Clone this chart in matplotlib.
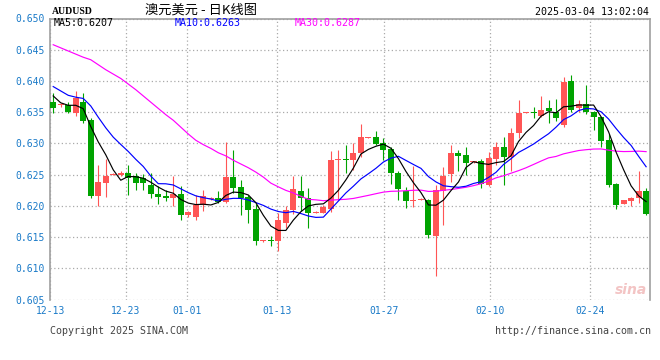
import numpy as np
import matplotlib
matplotlib.use('Agg')
import matplotlib.pyplot as plt

# daily OHLC AUDUSD, 12-13 .. 03-04
opens = [0.6366, 0.6361, 0.6361, 0.6349, 0.6366, 0.6337, 0.6216, 0.6237, 0.6250, 0.6250,
         0.6253, 0.6247, 0.6245, 0.6234, 0.6219, 0.6216, 0.6213, 0.6219, 0.6186, 0.6182,
         0.6202, 0.6211, 0.6213, 0.6206, 0.6246, 0.6230, 0.6214, 0.6195, 0.6143, 0.6144,
         0.6143, 0.6173, 0.6193, 0.6223, 0.6212, 0.6189, 0.6189, 0.6195, 0.6273, 0.6274,
         0.6273, 0.6284, 0.6309, 0.6310, 0.6300, 0.6291, 0.6252, 0.6223, 0.6208, 0.6210,
         0.6210, 0.6152, 0.6224, 0.6251, 0.6284, 0.6281, 0.6270, 0.6271, 0.6234, 0.6275,
         0.6294, 0.6278, 0.6317, 0.6349, 0.6350, 0.6344, 0.6357, 0.6351, 0.6329, 0.6400,
         0.6356, 0.6363, 0.6350, 0.6343, 0.6305, 0.6235, 0.6203, 0.6207, 0.6213, 0.6224]
highs = [0.6381, 0.6364, 0.6366, 0.6384, 0.6380, 0.6341, 0.6265, 0.6275, 0.6252, 0.6256,
         0.6265, 0.6252, 0.6251, 0.6253, 0.6231, 0.6225, 0.6248, 0.6232, 0.6192, 0.6217,
         0.6225, 0.6214, 0.6223, 0.6303, 0.6289, 0.6241, 0.6217, 0.6203, 0.6145, 0.6152,
         0.6188, 0.6200, 0.6248, 0.6248, 0.6229, 0.6191, 0.6201, 0.6288, 0.6289, 0.6298,
         0.6301, 0.6331, 0.6311, 0.6320, 0.6308, 0.6295, 0.6256, 0.6230, 0.6264, 0.6212,
         0.6211, 0.6233, 0.6262, 0.6298, 0.6290, 0.6294, 0.6272, 0.6275, 0.6287, 0.6303,
         0.6310, 0.6325, 0.6370, 0.6351, 0.6359, 0.6376, 0.6370, 0.6371, 0.6406, 0.6409,
         0.6370, 0.6394, 0.6352, 0.6343, 0.6315, 0.6237, 0.6209, 0.6214, 0.6256, 0.6228]
lows = [0.6349, 0.6359, 0.6349, 0.6344, 0.6332, 0.6213, 0.6199, 0.6214, 0.6249, 0.6247,
        0.6218, 0.6225, 0.6225, 0.6213, 0.6203, 0.6208, 0.6200, 0.6177, 0.6182, 0.6178,
        0.6192, 0.6210, 0.6204, 0.6204, 0.6220, 0.6185, 0.6172, 0.6138, 0.6142, 0.6136,
        0.6128, 0.6164, 0.6187, 0.6191, 0.6164, 0.6188, 0.6189, 0.6190, 0.6210, 0.6252,
        0.6257, 0.6278, 0.6308, 0.6298, 0.6273, 0.6235, 0.6210, 0.6197, 0.6198, 0.6209,
        0.6149, 0.6087, 0.6169, 0.6238, 0.6255, 0.6250, 0.6269, 0.6229, 0.6231, 0.6265,
        0.6234, 0.6255, 0.6309, 0.6348, 0.6341, 0.6342, 0.6333, 0.6336, 0.6327, 0.6351,
        0.6351, 0.6347, 0.6321, 0.6295, 0.6230, 0.6195, 0.6203, 0.6199, 0.6204, 0.6185]
closes = [0.6357, 0.6362, 0.6351, 0.6372, 0.6336, 0.6215, 0.6238, 0.6248, 0.6251, 0.6253,
          0.6245, 0.6236, 0.6236, 0.6219, 0.6214, 0.6213, 0.6219, 0.6186, 0.6190, 0.6202,
          0.6216, 0.6213, 0.6206, 0.6246, 0.6229, 0.6212, 0.6194, 0.6144, 0.6145, 0.6143,
          0.6177, 0.6194, 0.6227, 0.6212, 0.6189, 0.6190, 0.6198, 0.6273, 0.6274, 0.6273,
          0.6285, 0.6310, 0.6310, 0.6299, 0.6290, 0.6252, 0.6227, 0.6207, 0.6209, 0.6211,
          0.6153, 0.6225, 0.6248, 0.6285, 0.6280, 0.6269, 0.6271, 0.6235, 0.6277, 0.6294,
          0.6278, 0.6317, 0.6349, 0.6350, 0.6349, 0.6353, 0.6352, 0.6341, 0.6398, 0.6354,
          0.6363, 0.6350, 0.6342, 0.6304, 0.6233, 0.6201, 0.6209, 0.6213, 0.6224, 0.6187]

# moving average values before enough closes exist
ma5_head = [0.6376, 0.6365, 0.6361, 0.6361]
ma10_head = [0.6391, 0.6384, 0.6377, 0.6374, 0.6372, 0.6360, 0.6342, 0.6325, 0.6310]
ma30_head = [0.6458, 0.6453, 0.6448, 0.6443, 0.6438, 0.6434, 0.6426, 0.6418, 0.6411, 0.6404,
             0.6395, 0.6386, 0.6376, 0.6366, 0.6356, 0.6346, 0.6337, 0.6326, 0.6315, 0.6305,
             0.6298, 0.6292, 0.6285, 0.6280, 0.6273, 0.6267, 0.6261, 0.6254, 0.6246]

date_labels = ['12-13', '12-23', '01-01', '01-13', '01-27', '02-10', '02-24']
date_pos = [-0.36, 9.67, 17.85, 29.84, 44.14, 58.26, 71.49]
y_ticks = [0.605, 0.610, 0.615, 0.620, 0.625, 0.630, 0.635, 0.640, 0.645, 0.650]


def moving_avg(vals, n, head):
    out = list(head)
    for i in range(len(head), len(vals)):
        out.append(np.mean(vals[i - n + 1:i + 1]))
    return np.array(out)


o = np.array(opens)
h = np.array(highs)
l = np.array(lows)
c = np.array(closes)
x = np.arange(len(c))

ma5 = moving_avg(c, 5, ma5_head)
ma10 = moving_avg(c, 10, ma10_head)
ma30 = moving_avg(c, 30, ma30_head)

red = '#FF5555'
green = '#00A300'
cols = [red if c[i] >= o[i] else green for i in range(len(c))]

fig = plt.figure(figsize=(6.6, 3.6), dpi=100)
ax = fig.add_axes([50.5 / 660, (360 - 299.5) / 360, 599 / 660, 281 / 360])

ax.vlines(x, l, h, colors=cols, linewidth=0.8, zorder=2)
body_bot = np.minimum(o, c)
body_h = np.maximum(np.abs(c - o), 0.00016)
ax.bar(x, body_h, bottom=body_bot, width=0.8, color=cols, linewidth=0, zorder=3)

ax.plot(x, ma30, color='#FF00FF', lw=0.85, zorder=4)
ax.plot(x, ma10, color='#0000FF', lw=0.85, zorder=4)
ax.plot(x, ma5, color='black', lw=0.85, zorder=5)

ax.set_xlim(-0.36, 79.45)
ax.set_ylim(0.605, 0.650)
ax.set_yticks(y_ticks)
ax.set_yticklabels(['%.3f' % v for v in y_ticks])
ax.set_xticks(date_pos)
ax.set_xticklabels(date_labels)
ax.tick_params(length=0, labelsize=7, labelcolor='#1A7AC8', pad=4)
for lab in ax.get_xticklabels() + ax.get_yticklabels():
    lab.set_family('DejaVu Sans Mono')
ax.tick_params(axis='x', pad=5)

ax.grid(True, color='#AAAAAA', linestyle=(0, (1, 2)), linewidth=0.9, zorder=0)
ax.set_axisbelow(True)
for s in ['left', 'right', 'top']:
    ax.spines[s].set_color('#A0A0A0')
    ax.spines[s].set_linewidth(1.2)
ax.spines['bottom'].set_visible(False)

mono = 'DejaVu Sans Mono'
fig.text(52 / 660, 1 - 11 / 360, 'AUDUSD', family='Liberation Serif', fontweight='bold',
         fontsize=7, va='center', ha='left')
fig.text(201 / 660, 1 - 10 / 360, '澳元美元 - 日K线图', family=['Noto Sans CJK SC', 'DejaVu Sans'],
         fontsize=9.5, va='center', ha='center')
fig.text(649 / 660, 1 - 12 / 360, '2025-03-04 13:02:04', family=mono, fontsize=7.2,
         va='center', ha='right')

fig.text(54 / 660, 1 - 23.5 / 360, 'MA5:%.4f' % ma5[-1], family=mono, fontsize=7.2,
         color='black', va='center', ha='left')
fig.text(175 / 660, 1 - 23.5 / 360, 'MA10:%.4f' % ma10[-1], family=mono, fontsize=7.2,
         color='#0000FF', va='center', ha='left')
fig.text(295 / 660, 1 - 23.5 / 360, 'MA30:%.4f' % ma30[-1], family=mono, fontsize=7.2,
         color='#FF00FF', va='center', ha='left')

fig.text(50 / 660, 1 - 330.5 / 360, 'Copyright 2025 SINA.COM', family=mono, fontsize=7.2,
         color='#444444', va='center', ha='left')
fig.text(650.5 / 660, 1 - 330.5 / 360, 'http://finance.sina.com.cn', family=mono, fontsize=7.2,
         color='#444444', va='center', ha='right')

fig.text(631 / 660, 1 - 290 / 360, 'sina', family='DejaVu Sans', fontsize=10, style='italic',
         fontweight='bold', color='#F3C4C4', va='center', ha='center', zorder=1)

fig.savefig('out.png', dpi=100)
